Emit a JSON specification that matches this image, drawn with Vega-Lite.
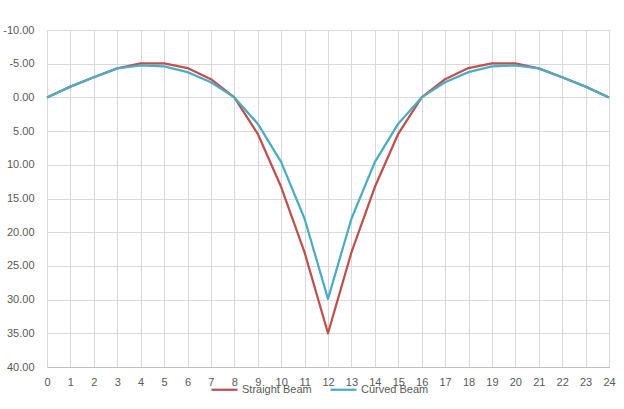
{
  "$schema": "https://vega.github.io/schema/vega-lite/v6.json",
  "autosize": "none",
  "width": 562,
  "height": 337,
  "padding": {"left": 47, "top": 30, "right": 15, "bottom": 42},
  "background": "white",
  "config": {
    "font": "Liberation Sans",
    "view": {"stroke": "#d9d9d9", "strokeWidth": 1},
    "axis": {"labelColor": "#595959", "labelFontSize": 11, "gridColor": "#d9d9d9", "gridWidth": 1, "ticks": false, "domain": false, "title": null}
  },
  "data": {"values": [
    {"x": 0, "series": "Straight Beam", "y": 0},
    {"x": 1, "series": "Straight Beam", "y": -1.6},
    {"x": 2, "series": "Straight Beam", "y": -3.0},
    {"x": 3, "series": "Straight Beam", "y": -4.3},
    {"x": 4, "series": "Straight Beam", "y": -5.05},
    {"x": 5, "series": "Straight Beam", "y": -5.05},
    {"x": 6, "series": "Straight Beam", "y": -4.35},
    {"x": 7, "series": "Straight Beam", "y": -2.7},
    {"x": 8, "series": "Straight Beam", "y": 0},
    {"x": 9, "series": "Straight Beam", "y": 5.4},
    {"x": 10, "series": "Straight Beam", "y": 13.3},
    {"x": 11, "series": "Straight Beam", "y": 23.0},
    {"x": 12, "series": "Straight Beam", "y": 35.0},
    {"x": 13, "series": "Straight Beam", "y": 23.0},
    {"x": 14, "series": "Straight Beam", "y": 13.3},
    {"x": 15, "series": "Straight Beam", "y": 5.4},
    {"x": 16, "series": "Straight Beam", "y": 0},
    {"x": 17, "series": "Straight Beam", "y": -2.7},
    {"x": 18, "series": "Straight Beam", "y": -4.35},
    {"x": 19, "series": "Straight Beam", "y": -5.05},
    {"x": 20, "series": "Straight Beam", "y": -5.05},
    {"x": 21, "series": "Straight Beam", "y": -4.3},
    {"x": 22, "series": "Straight Beam", "y": -3.0},
    {"x": 23, "series": "Straight Beam", "y": -1.6},
    {"x": 24, "series": "Straight Beam", "y": 0},
    {"x": 0, "series": "Curved Beam", "y": 0},
    {"x": 1, "series": "Curved Beam", "y": -1.6},
    {"x": 2, "series": "Curved Beam", "y": -3.0},
    {"x": 3, "series": "Curved Beam", "y": -4.3},
    {"x": 4, "series": "Curved Beam", "y": -4.75},
    {"x": 5, "series": "Curved Beam", "y": -4.6},
    {"x": 6, "series": "Curved Beam", "y": -3.75},
    {"x": 7, "series": "Curved Beam", "y": -2.25},
    {"x": 8, "series": "Curved Beam", "y": 0},
    {"x": 9, "series": "Curved Beam", "y": 3.9},
    {"x": 10, "series": "Curved Beam", "y": 9.6},
    {"x": 11, "series": "Curved Beam", "y": 18.0},
    {"x": 12, "series": "Curved Beam", "y": 29.9},
    {"x": 13, "series": "Curved Beam", "y": 18.0},
    {"x": 14, "series": "Curved Beam", "y": 9.6},
    {"x": 15, "series": "Curved Beam", "y": 3.9},
    {"x": 16, "series": "Curved Beam", "y": 0},
    {"x": 17, "series": "Curved Beam", "y": -2.25},
    {"x": 18, "series": "Curved Beam", "y": -3.75},
    {"x": 19, "series": "Curved Beam", "y": -4.6},
    {"x": 20, "series": "Curved Beam", "y": -4.75},
    {"x": 21, "series": "Curved Beam", "y": -4.3},
    {"x": 22, "series": "Curved Beam", "y": -3.0},
    {"x": 23, "series": "Curved Beam", "y": -1.6},
    {"x": 24, "series": "Curved Beam", "y": 0}
  ]},
  "mark": {"type": "line", "strokeWidth": 2.25, "strokeJoin": "round"},
  "encoding": {
    "x": {"field": "x", "type": "quantitative", "scale": {"domain": [0, 24], "nice": false, "zero": false},
      "axis": {"values": [0,1,2,3,4,5,6,7,8,9,10,11,12,13,14,15,16,17,18,19,20,21,22,23,24], "labelPadding": 9, "domain": true, "domainColor": "#bfbfbf", "labelFlush": false}},
    "y": {"field": "y", "type": "quantitative", "scale": {"domain": [-10, 40], "reverse": true, "nice": false, "zero": false},
      "axis": {"values": [-10,-5,0,5,10,15,20,25,30,35,40], "labelExpr": "replace(format(datum.value, '.2f'), '\u2212', '-')", "labelPadding": 13}},
    "color": {"field": "series", "type": "nominal", "sort": ["Straight Beam", "Curved Beam"],
      "scale": {"domain": ["Straight Beam", "Curved Beam"], "range": ["#C0504D", "#4BACC6"]},
      "legend": {"title": null, "orient": "none", "legendX": 163, "legendY": 345, "direction": "horizontal",
        "symbolType": "stroke", "symbolSize": 676, "symbolStrokeWidth": 2.25, "labelFontSize": 11, "labelColor": "#595959", "labelOffset": 3, "columnPadding": 14}}
  }
}
